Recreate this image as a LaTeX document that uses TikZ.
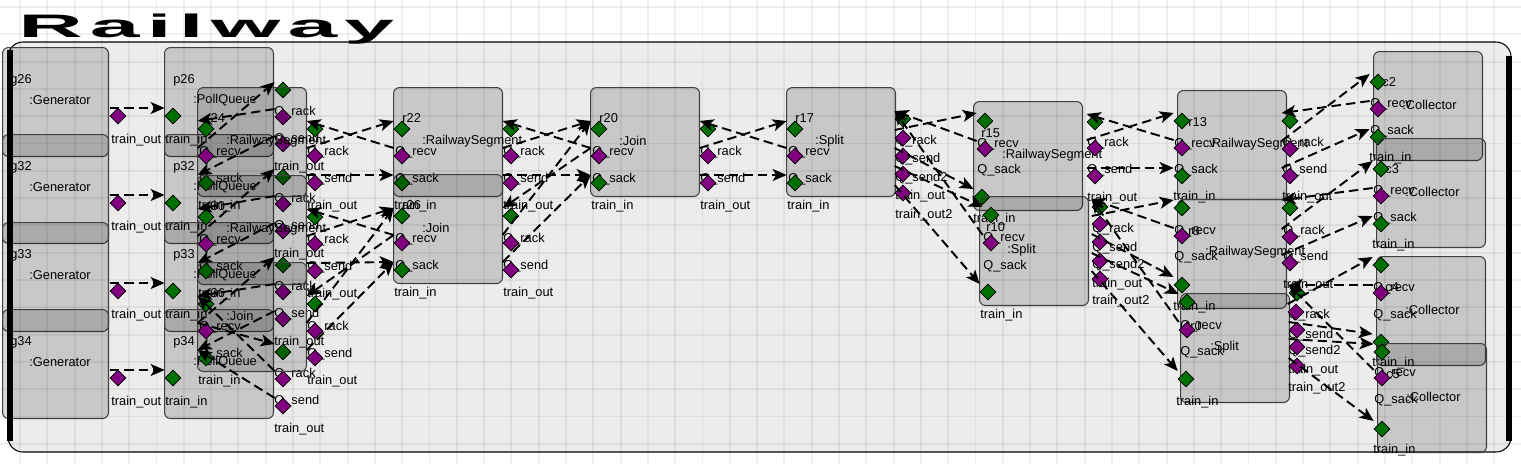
\documentclass[tikz,border=0pt]{standalone}
\usepackage{fontspec}
\setmainfont{Liberation Sans}
\newfontfamily\titlefont[LetterSpace=8]{Liberation Sans Bold}
\usetikzlibrary{shapes.geometric,arrows.meta}
\definecolor{portgreen}{RGB}{0,112,0}
\definecolor{portpurple}{RGB}{128,0,128}
\definecolor{canvas}{RGB}{236,236,236}

\tikzset{
  comp/.style={draw=black!75, line width=0.6pt, fill=black, fill opacity=0.15,
    rounded corners=0.12cm, minimum width=2.18cm, minimum height=2.18cm,
    anchor=north west, inner sep=0},
  inport/.style={diamond, draw=black, line width=0.4pt, fill=portgreen,
    inner sep=0, minimum width=0.32cm, minimum height=0.32cm},
  outport/.style={inport, fill=portpurple},
  lbl/.style={anchor=west, inner sep=0, font=\fontsize{7.3}{8}\selectfont},
  flow/.style={dash pattern=on 0.19cm off 0.1cm, line width=1.1pt,
    -{Stealth[length=0.28cm, width=0.24cm, inset=0.07cm]}},
  gridline/.style={draw=black, draw opacity=0.06, line width=1.1pt},
}

\begin{document}
\begin{tikzpicture}[x=0.02cm, y=-0.02cm]
  \useasboundingbox (0,0) rectangle (1521,464);
  \fill[white] (0,0) rectangle (1521,464);
  \fill[canvas, rounded corners=0.3cm] (8,42) rectangle (1511,452);

  % grid
  \foreach \i in {0,...,54}
    \draw[gridline] (20+27.3*\i,0) -- (20+27.3*\i,464);
  \foreach \j in {0,...,16}
    \draw[gridline] (0,7+27.3*\j) -- (1521,7+27.3*\j);
  \draw[line width=0.6pt, rounded corners=0.3cm] (8,42) rectangle (1511,452);

  \node[anchor=base west, inner sep=0] (title) at (18,37)
    {\titlefont\fontsize{18.5}{19}\selectfont\scalebox{2.75}[1]{Railway}};

  % generators
  \foreach \nm/\yy in {g26/47, g32/134, g33/222, g34/309}{
    \node[comp, minimum width=2.12cm] (\nm) at (2,\yy) {};
    \node[lbl] (\nm-name) at (10,\yy+33) {\nm};
    \node[lbl] (\nm-type) at (29,\yy+53) {:Generator};
    \node[lbl] (\nm-tout) at (111,\yy+93) {train\_out};
    \node[outport] (\nm-o) at (118,\yy+69) {};
  }

  % poll queues
  \foreach \nm/\yy in {p26/47, p32/134, p33/222, p34/309}{
    \node[comp] (\nm) at (164,\yy) {};
    \node[lbl] (\nm-name) at (173,\yy+33) {\nm};
    \node[lbl] (\nm-type) at (193,\yy+53) {:PollQueue};
    \node[lbl] (\nm-tin) at (165,\yy+93) {train\_in};
    \node[lbl] (\nm-rack) at (274,\yy+65) {Q\_rack};
    \node[lbl] (\nm-send) at (274,\yy+92) {Q\_send};
    \node[lbl] (\nm-tout) at (274,\yy+120) {train\_out};
    \node[inport] (\nm-i) at (173,\yy+69) {};
    \node[inport] (\nm-b) at (283,\yy+43) {};
    \node[outport] (\nm-r) at (283,\yy+70) {};
    \node[outport] (\nm-s) at (283,\yy+97) {};
  }

  % segments and joins
  \foreach \nm/\xx/\yy/\kind in {r24/197/87/RailwaySegment, r30/197/175/RailwaySegment,
      r36/197/262/Join, r22/393/87/RailwaySegment, r26/393/174/Join, r20/590/87/Join}{
    \node[comp] (\nm) at (\xx,\yy) {};
    \node[lbl] (\nm-name) at (\xx+9,\yy+31) {\nm};
    \node[lbl] (\nm-type) at (\xx+29,\yy+54) {:\kind};
    \node[lbl] (\nm-recv) at (\xx+2,\yy+65) {Q\_recv};
    \node[lbl] (\nm-sack) at (\xx+2,\yy+92) {Q\_sack};
    \node[lbl] (\nm-tin) at (\xx+1,\yy+119) {train\_in};
    \node[lbl] (\nm-rack) at (\xx+110,\yy+65) {Q\_rack};
    \node[lbl] (\nm-send) at (\xx+110,\yy+92) {Q\_send};
    \node[lbl] (\nm-tout) at (\xx+110,\yy+119) {train\_out};
    \node[inport] (\nm-a) at (\xx+9,\yy+42) {};
    \node[outport] (\nm-v) at (\xx+9,\yy+69) {};
    \node[inport] (\nm-k) at (\xx+9,\yy+96) {};
    \node[inport] (\nm-b) at (\xx+118,\yy+42) {};
    \node[outport] (\nm-r) at (\xx+118,\yy+69) {};
    \node[outport] (\nm-s) at (\xx+118,\yy+96) {};
  }

  % r17 split
  \node[comp] (r17) at (786,87) {};
  \node[lbl] (r17-name) at (795,118) {r17};
  \node[lbl] (r17-type) at (815,141) {:Split};
  \node[lbl] (r17-recv) at (788,152) {Q\_recv};
  \node[lbl] (r17-sack) at (788,179) {Q\_sack};
  \node[lbl] (r17-tin) at (787,206) {train\_in};
  \node[lbl] (r17-rack) at (895,141) {Q\_rack};
  \node[lbl] (r17-send) at (895,159) {Q\_send};
  \node[lbl] (r17-send2) at (895,178) {Q\_send2};
  \node[lbl] (r17-tout) at (895,196) {train\_out};
  \node[lbl] (r17-tout2) at (895,215) {train\_out2};
  \node[inport] (r17-a) at (795,129) {};
  \node[outport] (r17-v) at (795,156) {};
  \node[inport] (r17-k) at (795,183) {};
  \node[inport] (r17-b) at (903,119) {};
  \node[outport] (r17-r) at (903,138) {};
  \node[outport] (r17-s) at (903,156) {};
  \node[outport] (r17-t) at (903,174) {};
  \node[outport] (r17-u) at (903,193) {};

  % r15 segment
  \node[comp] (r15) at (973,101) {};
  \node[lbl] (r15-name) at (981,133) {r15};
  \node[lbl] (r15-recv) at (977,144) {Q\_recv};
  \node[lbl] (r15-type) at (1002,155) {:RailwaySegment};
  \node[lbl] (r15-sack) at (977,170) {Q\_sack};
  \node[lbl] (r15-tin) at (973,219) {train\_in};
  \node[lbl] (r15-rack) at (1087,143) {Q\_rack};
  \node[lbl] (r15-send) at (1087,170) {Q\_send};
  \node[lbl] (r15-tout) at (1087,198) {train\_out};
  \node[inport] (r15-a) at (985,121) {};
  \node[outport] (r15-v) at (985,149) {};
  \node[inport] (r15-k) at (982,197) {};
  \node[inport] (r15-b) at (1095,122) {};
  \node[outport] (r15-r) at (1095,148) {};
  \node[outport] (r15-s) at (1095,176) {};

  % r10 split
  \node[comp] (r10) at (979,196) {};
  \node[lbl] (r10-name) at (986,227) {r10};
  \node[lbl] (r10-recv) at (983,238) {Q\_recv};
  \node[lbl] (r10-type) at (1007,250) {:Split};
  \node[lbl] (r10-sack) at (983,266) {Q\_sack};
  \node[lbl] (r10-tin) at (980,315) {train\_in};
  \node[lbl] (r10-rack) at (1092,229) {Q\_rack};
  \node[lbl] (r10-send) at (1092,248) {Q\_send};
  \node[lbl] (r10-send2) at (1092,265) {Q\_send2};
  \node[lbl] (r10-tout) at (1092,284) {train\_out};
  \node[lbl] (r10-tout2) at (1092,301) {train\_out2};
  \node[inport] (r10-a) at (991,215) {};
  \node[outport] (r10-v) at (991,243) {};
  \node[inport] (r10-k) at (988,292) {};
  \node[inport] (r10-b) at (1100,207) {};
  \node[outport] (r10-r) at (1100,224) {};
  \node[outport] (r10-s) at (1100,242) {};
  \node[outport] (r10-t) at (1100,261) {};
  \node[outport] (r10-u) at (1100,279) {};

  % r13 segment
  \node[comp] (r13) at (1177,90) {};
  \node[lbl] (r13-name) at (1188,122) {r13};
  \node[lbl] (r13-recv) at (1174,144) {Q\_recv};
  \node[lbl] (r13-type) at (1208,144) {:RailwaySegment};
  \node[lbl] (r13-sack) at (1174,170) {Q\_sack};
  \node[lbl] (r13-tin) at (1173,197) {train\_in};
  \node[lbl] (r13-rack) at (1282,143) {Q\_rack};
  \node[lbl] (r13-send) at (1282,170) {Q\_send};
  \node[lbl] (r13-tout) at (1282,197) {train\_out};
  \node[inport] (r13-a) at (1182,121) {};
  \node[outport] (r13-v) at (1182,148) {};
  \node[inport] (r13-k) at (1182,176) {};
  \node[inport] (r13-b) at (1290,121) {};
  \node[outport] (r13-r) at (1290,149) {};
  \node[outport] (r13-s) at (1290,176) {};

  % r8 segment
  \node[comp] (r8) at (1177,199) {};
  \node[lbl] (r8-recv) at (1174,231) {Q\_recv};
  \node[lbl] (r8-name) at (1188,231) {r8};
  \node[lbl] (r8-type) at (1205,252) {:RailwaySegment};
  \node[lbl] (r8-sack) at (1174,257) {Q\_sack};
  \node[lbl] (r8-tin) at (1173,307) {train\_in};
  \node[lbl] (r8-rack) at (1283,231) {Q\_rack};
  \node[lbl] (r8-send) at (1283,257) {Q\_send};
  \node[lbl] (r8-tout) at (1283,285) {train\_out};
  \node[inport] (r8-a) at (1182,208) {};
  \node[outport] (r8-v) at (1182,236) {};
  \node[inport] (r8-k) at (1182,285) {};
  \node[inport] (r8-b) at (1290,208) {};
  \node[outport] (r8-r) at (1290,237) {};
  \node[outport] (r8-s) at (1290,263) {};

  % r0 split
  \node[comp] (r0) at (1180,293) {};
  \node[lbl] (r0-recv) at (1180,326) {Q\_recv};
  \node[lbl] (r0-name) at (1190,326) {r0};
  \node[lbl] (r0-type) at (1210,347) {:Split};
  \node[lbl] (r0-sack) at (1180,352) {Q\_sack};
  \node[lbl] (r0-tin) at (1176,402) {train\_in};
  \node[lbl] (r0-rack) at (1288,315) {Q\_rack};
  \node[lbl] (r0-send) at (1288,335) {Q\_send};
  \node[lbl] (r0-send2) at (1288,351) {Q\_send2};
  \node[lbl] (r0-tout) at (1288,370) {train\_out};
  \node[lbl] (r0-tout2) at (1288,388) {train\_out2};
  \node[inport] (r0-a) at (1187,302) {};
  \node[outport] (r0-v) at (1187,330) {};
  \node[inport] (r0-k) at (1186,379) {};
  \node[inport] (r0-b) at (1297,293) {};
  \node[outport] (r0-r) at (1296,312) {};
  \node[outport] (r0-s) at (1297,330) {};
  \node[outport] (r0-t) at (1297,347) {};
  \node[outport] (r0-u) at (1297,366) {};

  % collectors
  \foreach \nm/\xx/\yy/\ya/\yv in {c2/1373/51/31/58, c3/1376/138/31/58,
      c4/1376/256/9/37, c5/1377/343/9/35}{
    \node[comp] (\nm) at (\xx,\yy) {};
    \node[lbl] (\nm-recv) at (\xx-3,\yy+\yv-5) {Q\_recv};
    \node[lbl] (\nm-name) at (\xx+9,\yy+31) {\nm};
    \node[lbl] (\nm-type) at (\xx+29,\yy+54) {:Collector};
    \node[lbl] (\nm-sack) at (\xx-3,\yy+\yv+22) {Q\_sack};
    \node[lbl] (\nm-tin) at (\xx-4,\yy+107) {train\_in};
    \node[inport] (\nm-a) at (\xx+5,\yy+\ya) {};
    \node[outport] (\nm-v) at (\xx+5,\yy+\yv) {};
    \node[inport] (\nm-k) at (\xx+5,\yy+86) {};
  }

  % connections
  \foreach \a/\b in {g26-o/p26-i, g32-o/p32-i, g33-o/p33-i, g34-o/p34-i,
      p26-r/r24-a, r24-v/p26-b, p26-s/r24-k,
      p32-r/r30-a, r30-v/p32-b, p32-s/r30-k,
      p33-r/r36-a, r36-v/p33-b, p33-s/r36-k,
      p34-r/r36-a, r36-v/p34-b, p34-s/r36-k,
      r24-r/r22-a, r22-v/r24-b, r24-s/r22-k,
      r30-r/r26-a, r26-v/r30-b, r30-s/r26-k,
      r36-r/r26-a, r26-v/r36-b, r36-s/r26-k,
      r22-r/r20-a, r20-v/r22-b, r22-s/r20-k,
      r26-r/r20-a, r20-v/r26-b, r26-s/r20-k,
      r20-r/r17-a, r17-v/r20-b, r20-s/r17-k,
      r17-r/r15-a, r15-v/r17-b, r17-s/r15-k,
      r17-t/r10-a, r10-v/r17-b, r17-u/r10-k,
      r15-r/r13-a, r13-v/r15-b, r15-s/r13-k,
      r10-r/r8-a, r8-v/r10-b, r10-s/r8-k,
      r10-t/r0-a, r0-v/r10-b, r10-u/r0-k,
      r13-r/c2-a, c2-v/r13-b, r13-s/c2-k,
      r8-r/c3-a, c3-v/r8-b, r8-s/c3-k,
      r0-r/c4-a, c4-v/r0-b, r0-s/c4-k,
      r0-t/c5-a, c5-v/r0-b, r0-u/c5-k}
    \draw[flow] ([yshift=0.16cm]\a.west) -- ([yshift=0.16cm]\b.west);

  % heavy sides of the frame
  \draw[line width=3.2pt] (10,50) -- (10,441);
  \draw[line width=3.2pt] (1509,56) -- (1509,441);
\end{tikzpicture}
\end{document}
